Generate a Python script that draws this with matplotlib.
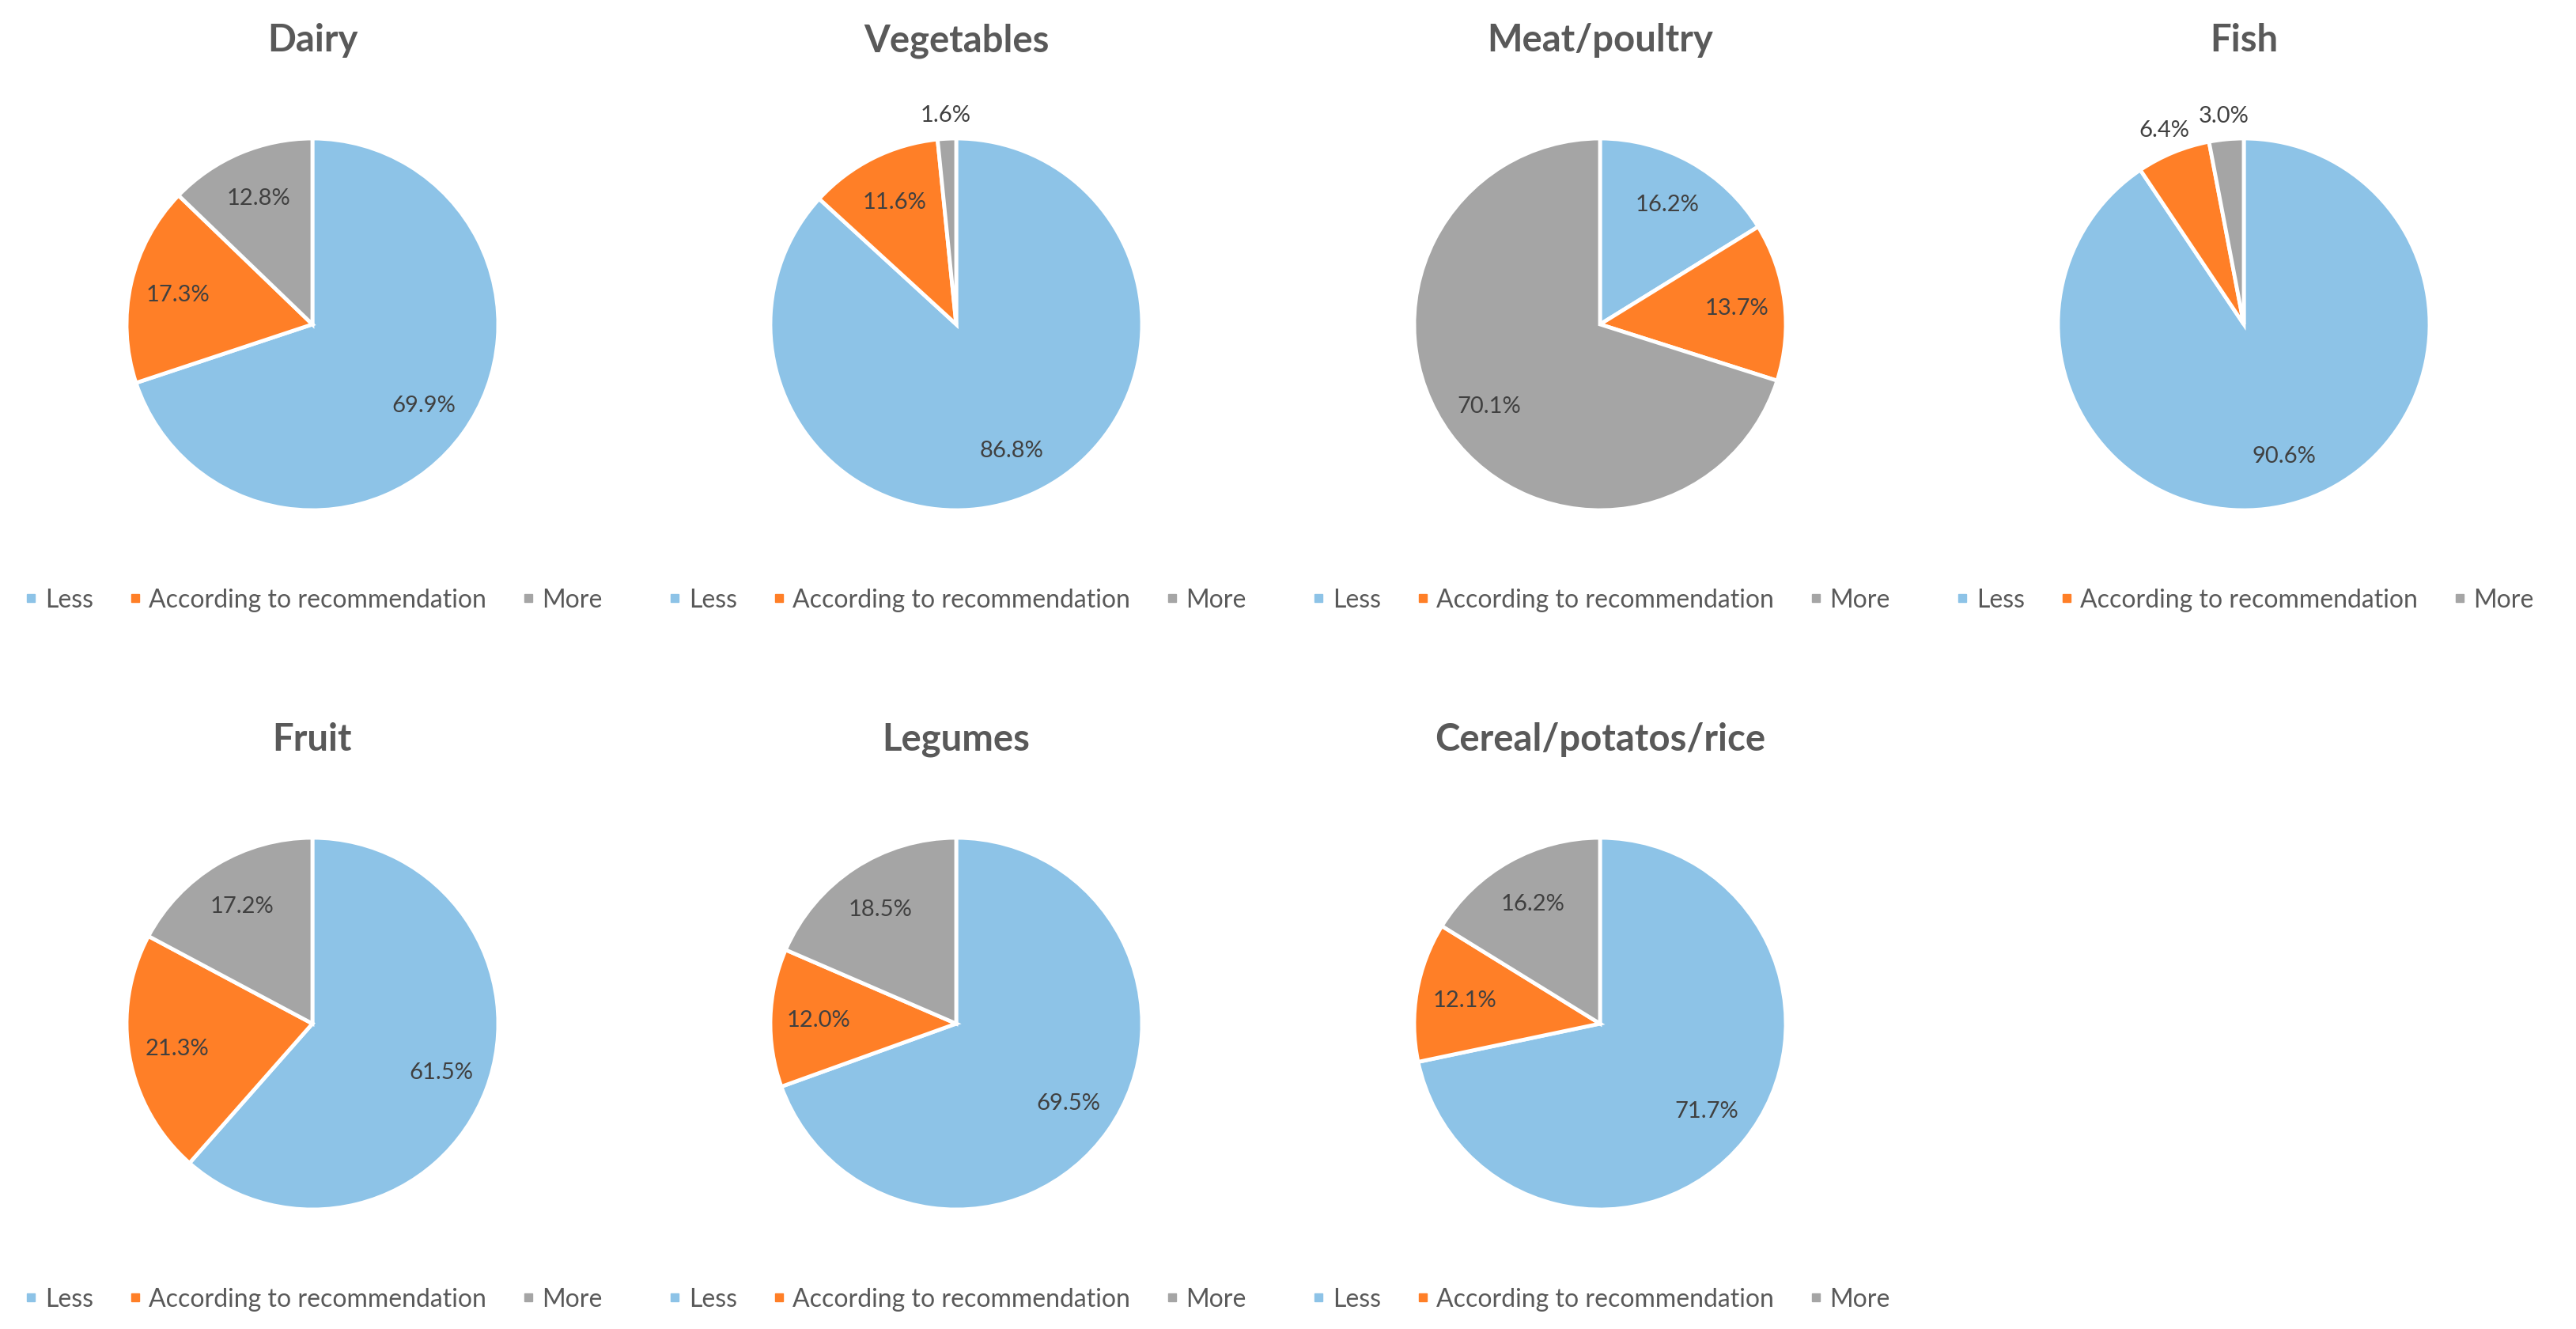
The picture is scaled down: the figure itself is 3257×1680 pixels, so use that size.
import numpy as np
import matplotlib
matplotlib.use("Agg")
import matplotlib.pyplot as plt
from matplotlib.lines import Line2D

plt.rcParams['font.family'] = ['Lato', 'DejaVu Sans']

# ---- data (percent of respondents per food group) ----
categories = ['Dairy', 'Vegetables', 'Meat/poultry', 'Fish',
              'Fruit', 'Legumes', 'Cereal/potatos/rice']
less = [69.9, 86.8, 16.2, 90.6, 61.5, 69.5, 71.7]
according = [17.3, 11.6, 13.7, 6.4, 21.3, 12.0, 12.1]
more = [12.8, 1.6, 70.1, 3.0, 17.2, 18.5, 16.2]
series_names = ['Less', 'According to recommendation', 'More']

colors = ['#8DC3E7', '#FF7F27', '#A5A5A5']
text_col = '#404040'
title_col = '#595959'

W, H = 3257, 1681
fig = plt.figure(figsize=(W / 100, H / 100), dpi=100)

R = 235                      # pie radius in pixels
for i, cat in enumerate(categories):
    col, row = i % 4, i // 4
    cx = 395 + 814 * col
    cy = 411 + 884 * row
    ax = fig.add_axes([(cx - R) / W, 1 - (cy + R) / H, 2 * R / W, 2 * R / H])
    vals = [less[i], according[i], more[i]]
    wedges, _ = ax.pie(vals, colors=colors, startangle=90, counterclock=False,
                       radius=1, wedgeprops=dict(edgecolor='white', linewidth=3.5))
    ax.set_xlim(-1, 1)
    ax.set_ylim(-1, 1)
    ax.set_aspect('equal')
    ax.axis('off')

    # percentage labels: inside for big slices, just outside for tiny ones
    for w, v in zip(wedges, vals):
        ang = np.deg2rad((w.theta1 + w.theta2) / 2)
        r = 0.74 if v >= 10 else 1.13
        ax.text(r * np.cos(ang), r * np.sin(ang), f'{v:.1f}%',
                ha='center', va='center', fontsize=21, color=text_col)

    ax.text(0, 1.53, cat, ha='center', va='center', fontsize=34,
            fontweight='bold', color=title_col)

    handles = [Line2D([], [], marker='s', ls='', color=c, markersize=7)
               for c in colors]
    ax.legend(handles, series_names, loc='center', bbox_to_anchor=(0.5, -0.24),
              ncol=3, frameon=False, fontsize=23, labelcolor=title_col,
              handletextpad=0.2, columnspacing=1.3, handlelength=0.7)

fig.savefig('out.png', dpi=100, facecolor='white')
